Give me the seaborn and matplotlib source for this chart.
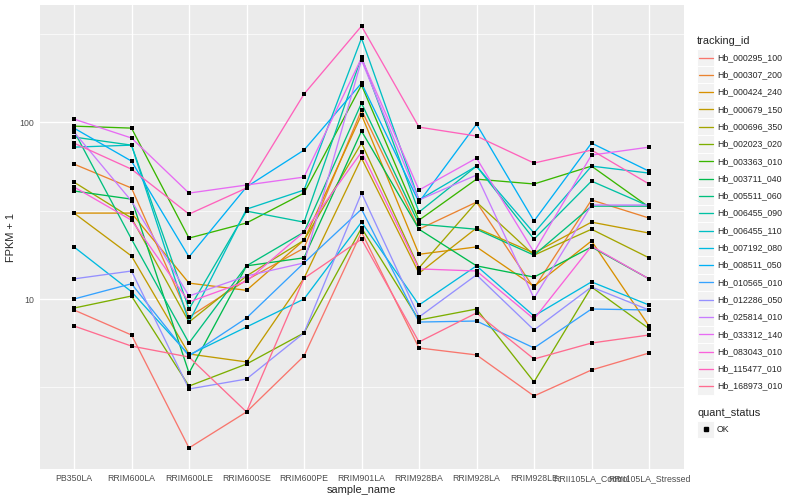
import numpy as np
import pandas as pd
import matplotlib
matplotlib.use("Agg")
import matplotlib.pyplot as plt
import seaborn as sns
from matplotlib.lines import Line2D
from matplotlib.patches import Rectangle
from matplotlib.ticker import FixedLocator, NullFormatter

# sample order on the x axis
samples = ["PB350LA", "RRIM600LA", "RRIM600LE", "RRIM600SE", "RRIM600PE", "RRIM901LA",
           "RRIM928BA", "RRIM928LA", "RRIM928LE", "RRII105LA_Control", "RRII105LA_Stressed"]

# FPKM + 1 per gene (same order as samples)
hb_000295_100 = [8.67, 6.26, 1.44, 2.30, 4.76, 23.9, 5.29, 4.83, 2.83, 3.97, 4.95]
hb_000307_200 = [57.9, 42.4, 7.91, 12.8, 19.4, 117, 24.8, 35.3, 11.5, 36.3, 28.7]
hb_000424_240 = [30.6, 30.6, 12.3, 11.2, 21.5, 110, 17.9, 19.7, 11.8, 21.3, 7.04]
hb_000679_150 = [30.6, 17.5, 4.89, 4.41, 13.1, 62.6, 14.0, 25.2, 18.2, 27.2, 23.6]
hb_000696_350 = [45.8, 28.7, 7.41, 13.5, 21.5, 76.1, 15.0, 35.3, 17.7, 24.8, 17.1]
hb_002023_020 = [8.89, 10.4, 3.22, 4.29, 6.43, 25.2, 7.61, 8.78, 3.40, 11.7, 6.80]
hb_003363_010 = [94.9, 92.5, 22.1, 26.9, 39.7, 162, 27.9, 47.6, 44.7, 56.4, 33.1]
hb_003711_040 = [40.8, 36.7, 3.82, 15.4, 17.1, 89.0, 24.8, 15.4, 13.3, 19.7, 13.0]
hb_005511_060 = [89.0, 21.8, 5.64, 15.4, 23.9, 128, 26.5, 24.8, 17.7, 33.5, 33.5]
hb_006455_090 = [82.3, 74.1, 8.78, 31.4, 27.2, 233, 31.0, 56.4, 21.8, 46.4, 33.5]
hb_006455_110 = [72.2, 74.1, 7.41, 32.2, 41.3, 298, 36.3, 56.4, 23.6, 56.4, 51.5]
hb_007192_080 = [19.7, 11.0, 4.83, 6.95, 10.0, 27.2, 9.25, 15.4, 8.02, 12.5, 9.25]
hb_008511_050 = [92.5, 60.2, 17.3, 43.0, 69.5, 166, 35.3, 97.4, 27.6, 76.1, 52.8]
hb_010565_010 = [10.0, 12.2, 4.76, 7.81, 16.0, 32.2, 7.41, 7.51, 5.29, 8.78, 8.67]
hb_012286_050 = [13.0, 14.4, 3.10, 3.53, 6.43, 39.7, 7.91, 13.7, 6.68, 11.7, 8.67]
hb_025814_010 = [87.9, 35.8, 10.4, 13.5, 16.0, 224, 36.3, 50.2, 10.1, 34.0, 34.0]
hb_033312_140 = [104, 81.3, 39.7, 44.1, 48.9, 230, 41.3, 62.6, 18.4, 65.1, 72.2]
hb_083043_010 = [43.0, 27.9, 9.62, 12.6, 23.9, 67.7, 14.8, 14.4, 7.71, 19.9, 13.0]
hb_115477_010 = [76.1, 54.2, 30.2, 42.4, 144, 349, 93.7, 83.4, 58.7, 69.5, 44.7]
hb_168973_010 = [7.04, 5.42, 4.70, 2.30, 13.1, 21.8, 5.72, 8.34, 4.58, 5.64, 6.26]

tracking_ids = ["Hb_000295_100", "Hb_000307_200", "Hb_000424_240", "Hb_000679_150",
                "Hb_000696_350", "Hb_002023_020", "Hb_003363_010", "Hb_003711_040",
                "Hb_005511_060", "Hb_006455_090", "Hb_006455_110", "Hb_007192_080",
                "Hb_008511_050", "Hb_010565_010", "Hb_012286_050", "Hb_025814_010",
                "Hb_033312_140", "Hb_083043_010", "Hb_115477_010", "Hb_168973_010"]
series = [hb_000295_100, hb_000307_200, hb_000424_240, hb_000679_150, hb_000696_350,
          hb_002023_020, hb_003363_010, hb_003711_040, hb_005511_060, hb_006455_090,
          hb_006455_110, hb_007192_080, hb_008511_050, hb_010565_010, hb_012286_050,
          hb_025814_010, hb_033312_140, hb_083043_010, hb_115477_010, hb_168973_010]

# ggplot default hue palette for 20 levels
palette = ["#F8766D", "#EA8331", "#D89000", "#C09B00", "#A3A500", "#7CAE00", "#39B600",
           "#00BB4E", "#00BF7D", "#00C1A3", "#00BFC4", "#00BAE0", "#00B0F6", "#35A2FF",
           "#9590FF", "#C77CFF", "#E76BF3", "#FA62DB", "#FF62BC", "#FF6C90"]

rows = []
for tid, vals in zip(tracking_ids, series):
    for s, v in zip(samples, vals):
        rows.append({"tracking_id": tid, "sample_name": s, "fpkm": v, "quant_status": "OK"})
df = pd.DataFrame(rows)

sns.set_style("darkgrid", {"axes.facecolor": "#EBEBEB", "grid.color": "white"})
plt.rcParams["font.family"] = ["Liberation Sans", "DejaVu Sans"]

W, H = 800, 500
fig = plt.figure(figsize=(8, 5), dpi=100)
fig.patch.set_facecolor("white")
ax = fig.add_axes([39.5 / W, 31 / H, 644 / W, 464 / H])
ax.set_yscale("log")

sns.lineplot(data=df, x="sample_name", y="fpkm", hue="tracking_id", hue_order=tracking_ids,
             palette=palette, estimator=None, sort=False, linewidth=0.95, legend=False, ax=ax)
sns.scatterplot(data=df, x="sample_name", y="fpkm", color="black", marker="s", s=8,
                linewidth=0, legend=False, ax=ax, zorder=3)

# ggplot style 5% expansion on the log scale
lo, hi = np.log10(df["fpkm"].min()), np.log10(df["fpkm"].max())
pad = 0.05 * (hi - lo)
ax.set_ylim(10 ** (lo - pad), 10 ** (hi + pad))
ax.set_xlim(-0.6, len(samples) - 0.4)

ax.set_yticks([10, 100])
ax.set_yticklabels(["10", "100"])
ax.yaxis.set_minor_locator(FixedLocator([10 ** 0.5, 10 ** 1.5, 10 ** 2.5]))
ax.yaxis.set_minor_formatter(NullFormatter())
ax.grid(which="major", color="white", linewidth=1.0)
ax.grid(which="minor", axis="y", color="white", linewidth=0.5)
ax.tick_params(which="major", length=2.0, width=0.7, color="#333333",
               labelsize=6.3, labelcolor="#4D4D4D", pad=1.6)
ax.tick_params(which="minor", length=0)
for sp in ax.spines.values():
    sp.set_visible(False)

ax.set_xlabel("sample_name", fontsize=7.9, labelpad=1.5)
ax.set_ylabel("FPKM + 1", fontsize=7.9, labelpad=3)

# legends, drawn the ggplot way in figure pixels
def fx(px):
    return px / W

def fy(py):
    return 1 - py / H

fig.text(fx(697), fy(40.7), "tracking_id", fontsize=7.9, va="center", ha="left")
key = 17.3
for i, (tid, col) in enumerate(zip(tracking_ids, palette)):
    cy = 57.5 + key * i
    fig.add_artist(Rectangle((fx(697), fy(cy + key / 2)), key / W, key / H,
                             transform=fig.transFigure, facecolor="#F2F2F2",
                             edgecolor="white", linewidth=0.7))
    fig.add_artist(Line2D([fx(698.5), fx(712.5)], [fy(cy), fy(cy)], color=col,
                          linewidth=0.95, transform=fig.transFigure))
    fig.text(fx(717), fy(cy), tid, fontsize=6.3, va="center", ha="left")

fig.text(fx(697), fy(412.7), "quant_status", fontsize=7.9, va="center", ha="left")
fig.add_artist(Rectangle((fx(697), fy(429.3 + key / 2)), key / W, key / H,
                         transform=fig.transFigure, facecolor="#F2F2F2",
                         edgecolor="white", linewidth=0.7))
fig.add_artist(Line2D([fx(705.6)], [fy(429.3)], marker="s", markersize=2.8, color="black",
                      linestyle="none", transform=fig.transFigure))
fig.text(fx(717), fy(429.3), "OK", fontsize=6.3, va="center", ha="left")

fig.savefig("out.png", dpi=100)
